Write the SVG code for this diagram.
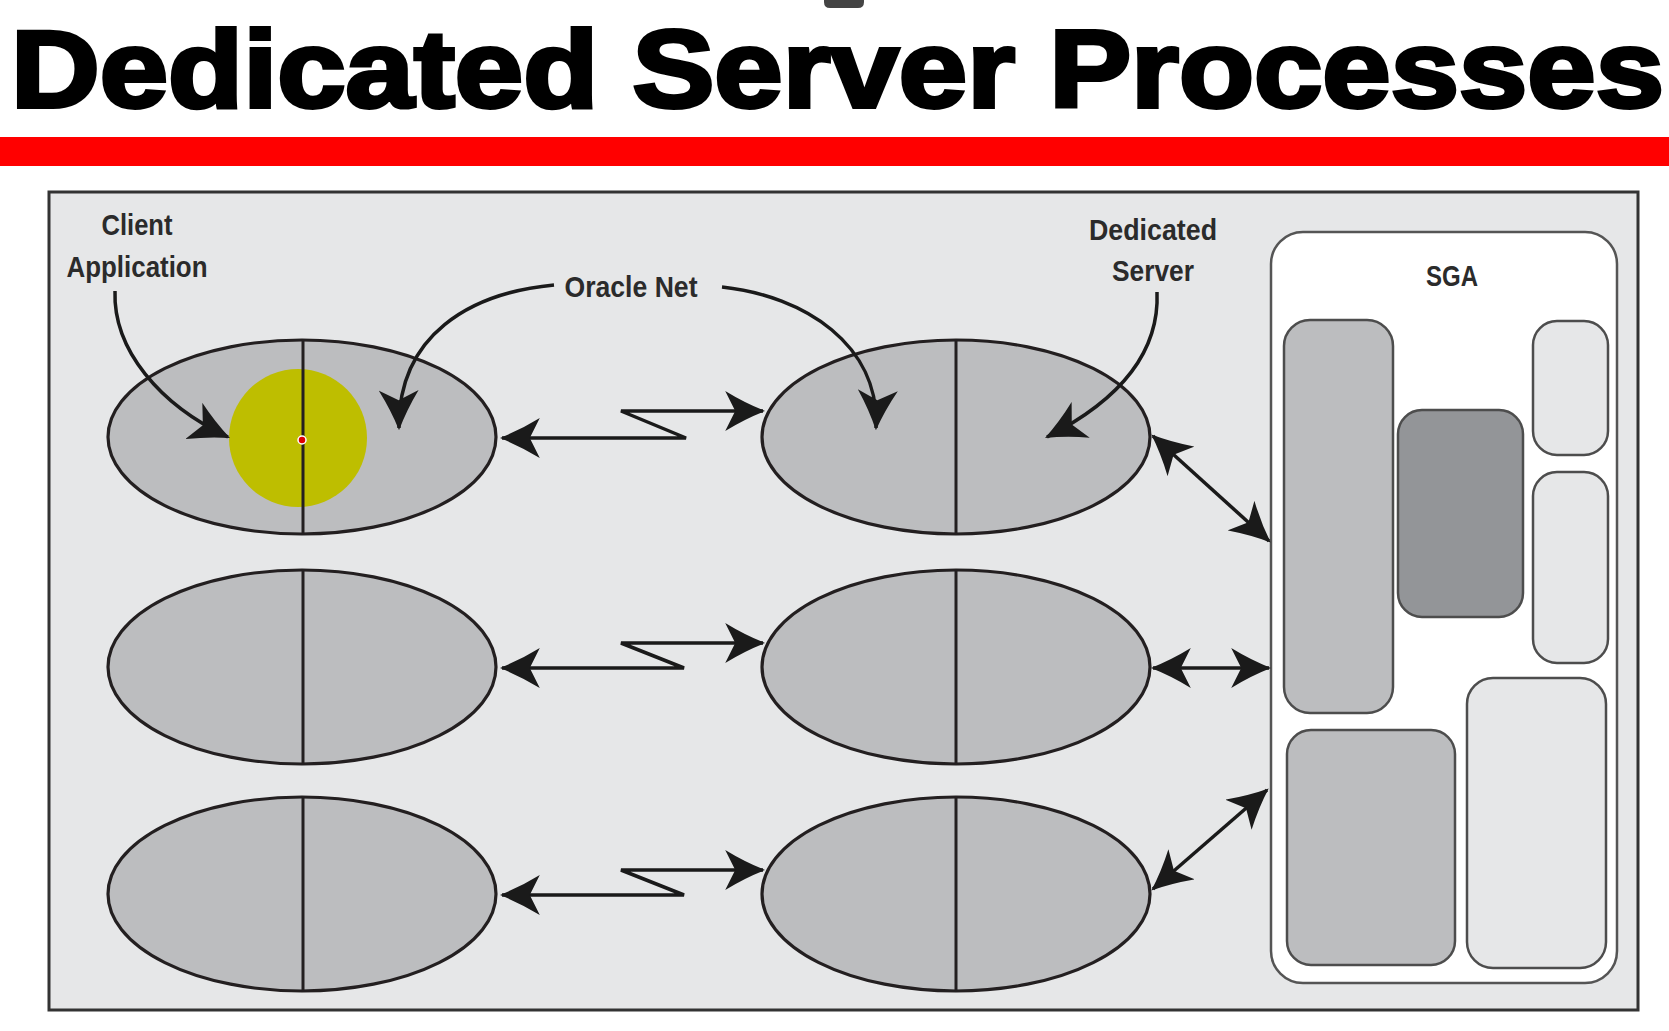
<svg xmlns="http://www.w3.org/2000/svg" width="1669" height="1031" viewBox="0 0 1669 1031">
<style>
.ell{fill:#bcbdbf;stroke:#231f20;stroke-width:3.2}
.div{stroke:#231f20;stroke-width:3}
.lbl{font-family:"Liberation Sans",Arial,sans-serif;font-weight:bold;font-size:30px;fill:#2b2b2b;text-anchor:middle}
.con{fill:none;stroke:#1a1a1a;stroke-width:3.5}
.box{stroke:#4d4d4d;stroke-width:2.5}
</style>
<defs>
<marker id="ah" markerUnits="userSpaceOnUse" markerWidth="40" markerHeight="40" viewBox="0 0 36 36" refX="34" refY="18" orient="auto-start-reverse">
<path d="M36,18 Q18,11 0,0 L9,18 L0,36 Q18,25 36,18 Z" fill="#1a1a1a"/>
</marker>
</defs>
<rect width="1669" height="1031" fill="#ffffff"/>
<path d="M824,0 H864 V2 Q864,8 858,8 H830 Q824,8 824,2 Z" fill="#444"/>
<g id="title">
<text x="11" y="107" font-family="'Liberation Sans',Arial,sans-serif" font-weight="bold" font-size="109" fill="#000" stroke="#000" stroke-width="4" textLength="1653" lengthAdjust="spacingAndGlyphs">Dedicated Server Processes</text>
<rect x="0" y="137" width="1669" height="29" fill="#ff0000"/>
</g>
<g id="panel">
<rect x="49" y="192" width="1589" height="818" fill="#e6e7e8" stroke="#333" stroke-width="3"/>
</g>
<g id="client1">
<ellipse class="ell" cx="302" cy="437" rx="194" ry="97"/>
<circle cx="298" cy="438" r="69" fill="#bebe00"/>
<line class="div" x1="303" y1="340" x2="303" y2="534"/>
<circle cx="302" cy="440" r="4" fill="#e00000" stroke="#fff" stroke-width="1.5"/>
</g>
<g id="client2">
<ellipse class="ell" cx="302" cy="667" rx="194" ry="97"/>
<line class="div" x1="303" y1="570" x2="303" y2="764"/>
</g>
<g id="client3">
<ellipse class="ell" cx="302" cy="894" rx="194" ry="97"/>
<line class="div" x1="303" y1="797" x2="303" y2="991"/>
</g>
<g id="server1">
<ellipse class="ell" cx="956" cy="437" rx="194" ry="97"/>
<line class="div" x1="956" y1="340" x2="956" y2="534"/>
</g>
<g id="server2">
<ellipse class="ell" cx="956" cy="667" rx="194" ry="97"/>
<line class="div" x1="956" y1="570" x2="956" y2="764"/>
</g>
<g id="server3">
<ellipse class="ell" cx="956" cy="894" rx="194" ry="97"/>
<line class="div" x1="956" y1="797" x2="956" y2="991"/>
</g>
<g id="sga">
<rect x="1271" y="232" width="346" height="751" rx="32" fill="#ffffff" stroke="#555" stroke-width="2.5"/>
<text class="lbl" x="1452" y="286" textLength="52" lengthAdjust="spacingAndGlyphs">SGA</text>
<rect class="box" x="1284" y="320" width="109" height="393" rx="26" fill="#bcbdbf"/>
<rect class="box" x="1398" y="410" width="125" height="207" rx="24" fill="#939598"/>
<rect class="box" x="1533" y="321" width="75" height="134" rx="24" fill="#e6e7e8"/>
<rect class="box" x="1533" y="472" width="75" height="191" rx="24" fill="#e6e7e8"/>
<rect class="box" x="1287" y="730" width="168" height="235" rx="24" fill="#bcbdbf"/>
<rect class="box" x="1467" y="678" width="139" height="290" rx="26" fill="#e6e7e8"/>
</g>
<g id="labels">
<text class="lbl" x="137" y="235" textLength="71" lengthAdjust="spacingAndGlyphs">Client</text>
<text class="lbl" x="137" y="277" textLength="141" lengthAdjust="spacingAndGlyphs">Application</text>
<text class="lbl" x="631" y="297" textLength="133" lengthAdjust="spacingAndGlyphs">Oracle Net</text>
<text class="lbl" x="1153" y="240" textLength="128" lengthAdjust="spacingAndGlyphs">Dedicated</text>
<text class="lbl" x="1153" y="281" textLength="82" lengthAdjust="spacingAndGlyphs">Server</text>
</g>
<g id="connectors">
<path class="con" d="M115,291 C113,350 160,405 228,437" marker-end="url(#ah)"/>
<path class="con" d="M554,285 C470,293 398,335 399,428" marker-end="url(#ah)"/>
<path class="con" d="M722,287 C805,296 880,345 876,428" marker-end="url(#ah)"/>
<path class="con" d="M1157,292 C1160,360 1110,405 1047,437" marker-end="url(#ah)"/>
<path class="con" d="M502,438 H686 L621,411 H763" marker-start="url(#ah)" marker-end="url(#ah)"/>
<path class="con" d="M502,668 H684 L621,643 H763" marker-start="url(#ah)" marker-end="url(#ah)"/>
<path class="con" d="M502,895 H684 L621,870 H763" marker-start="url(#ah)" marker-end="url(#ah)"/>
<path class="con" d="M1153,436 L1269,541" marker-start="url(#ah)" marker-end="url(#ah)"/>
<path class="con" d="M1153,668 L1269,668" marker-start="url(#ah)" marker-end="url(#ah)"/>
<path class="con" d="M1153,889 L1267,790" marker-start="url(#ah)" marker-end="url(#ah)"/>
</g>
</svg>
